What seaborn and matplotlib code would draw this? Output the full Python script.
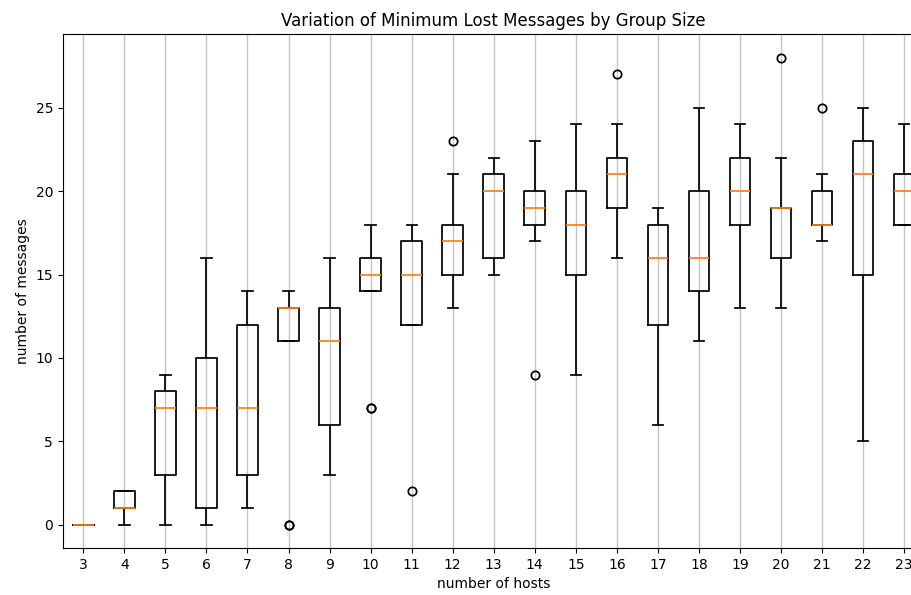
import matplotlib
matplotlib.use("Agg")
import matplotlib.pyplot as plt
import pandas as pd
import seaborn as sns

# Group sizes (number of hosts per run)
hosts = list(range(3, 24))

# Minimum lost messages observed across repeated runs, one list per group size
msgs_3 = [0, 0, 0, 0, 0, 0, 0, 0, 0]
msgs_4 = [0, 1, 1, 1, 1, 2, 2, 2, 2]
msgs_5 = [0, 3, 3, 5, 7, 7, 8, 8, 9]
msgs_6 = [0, 1, 1, 4, 7, 9, 10, 12, 16]
msgs_7 = [1, 2, 3, 5, 7, 9, 12, 13, 14]
msgs_8 = [0, 0, 11, 11, 13, 13, 13, 14, 14]
msgs_9 = [3, 5, 6, 9, 11, 12, 13, 15, 16]
msgs_10 = [7, 7, 14, 14, 15, 16, 16, 17, 18]
msgs_11 = [2, 12, 12, 14, 15, 16, 17, 18, 18]
msgs_12 = [13, 14, 15, 16, 17, 17, 18, 21, 23]
msgs_13 = [15, 16, 16, 18, 20, 20, 21, 22, 22]
msgs_14 = [9, 17, 18, 18, 19, 20, 20, 21, 23]
msgs_15 = [9, 13, 15, 17, 18, 19, 20, 22, 24]
msgs_16 = [16, 18, 19, 20, 21, 21, 22, 24, 27]
msgs_17 = [6, 10, 12, 14, 16, 17, 18, 19, 19]
msgs_18 = [11, 13, 14, 15, 16, 18, 20, 22, 25]
msgs_19 = [13, 16, 18, 19, 20, 21, 22, 23, 24]
msgs_20 = [13, 15, 16, 18, 19, 19, 19, 22, 28]
msgs_21 = [17, 18, 18, 18, 18, 19, 20, 21, 25]
msgs_22 = [5, 10, 15, 19, 21, 22, 23, 24, 25]
msgs_23 = [18, 18, 18, 19, 20, 20, 21, 22, 24]

messages = [msgs_3, msgs_4, msgs_5, msgs_6, msgs_7, msgs_8, msgs_9, msgs_10,
            msgs_11, msgs_12, msgs_13, msgs_14, msgs_15, msgs_16, msgs_17,
            msgs_18, msgs_19, msgs_20, msgs_21, msgs_22, msgs_23]

rows = [(h, v) for h, vals in zip(hosts, messages) for v in vals]
df = pd.DataFrame(rows, columns=["hosts", "messages"])

fig = plt.figure(figsize=(9.12, 5.95), dpi=100)
# axes run slightly past the right edge of the canvas
ax = fig.add_axes([0.0689, 0.0788, 0.9449, 0.8634])

sns.boxplot(
    data=df, x="hosts", y="messages", order=hosts, ax=ax,
    width=0.5, fill=False, color="black", linecolor="black", linewidth=1.25,
    whis=1.5,
    medianprops=dict(color="#ff7f0e", linewidth=1.25, zorder=4),
    flierprops=dict(marker="o", markerfacecolor="none",
                    markeredgecolor="black", markersize=6,
                    markeredgewidth=1.25),
)

ax.grid(axis="x", color="#c4c4c4", linewidth=1.0)
ax.grid(axis="y", visible=False)
ax.set_axisbelow(True)
ax.set_ylim(-1.4, 29.4)
ax.set_xlim(-0.5, len(hosts) - 0.5)

ax.set_title("Variation of Minimum Lost Messages by Group Size", fontsize=12)
ax.set_xlabel("number of hosts", fontsize=10)
ax.set_ylabel("number of messages", fontsize=10)
ax.tick_params(labelsize=10)

fig.savefig("out.png", dpi=100)
